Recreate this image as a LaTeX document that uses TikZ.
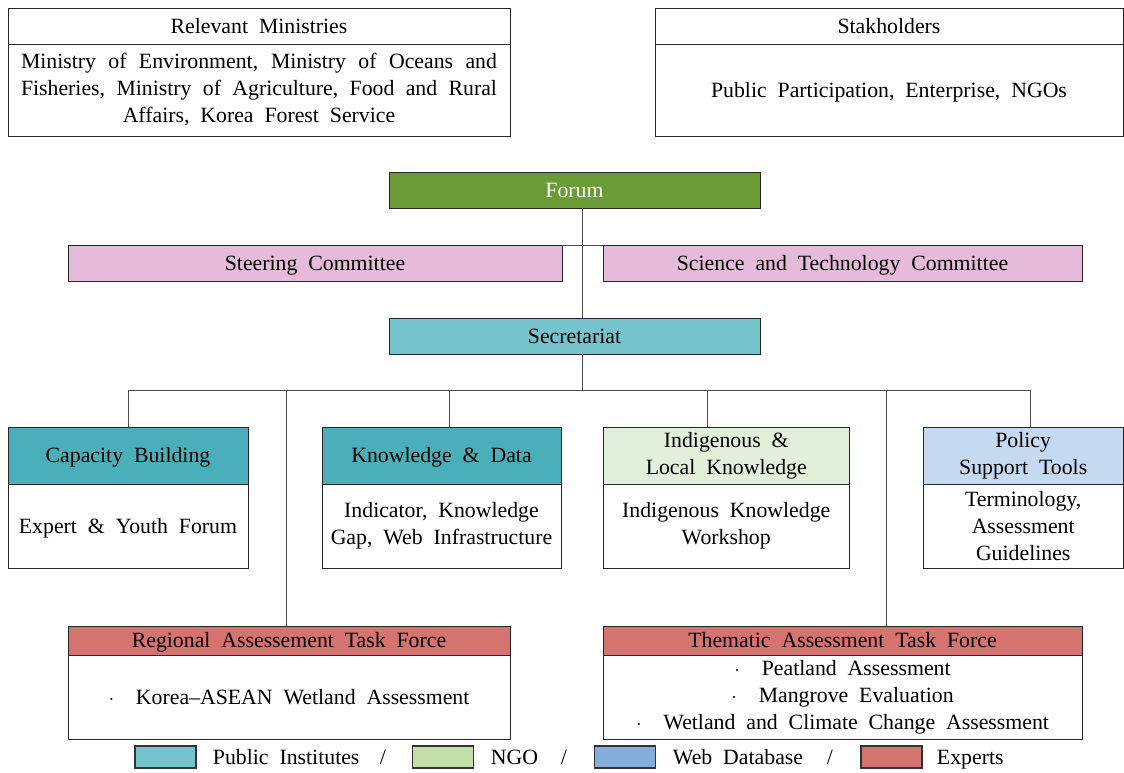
\documentclass[tikz,border=0pt]{standalone}
\usepackage{fontspec}
\setmainfont{Liberation Serif}
\usetikzlibrary{positioning}

\definecolor{forumgreen}{RGB}{106,155,55}
\definecolor{committeepink}{RGB}{230,187,218}
\definecolor{secrteal}{RGB}{116,195,205}
\definecolor{workteal}{RGB}{75,175,186}
\definecolor{ngolight}{RGB}{226,239,218}
\definecolor{weblight}{RGB}{197,217,241}
\definecolor{expertred}{RGB}{212,115,112}
\definecolor{ngogreen}{RGB}{196,223,167}
\definecolor{webblue}{RGB}{133,173,219}

\newcommand\diagfont{\fontsize{15.5}{19.2}\selectfont\spaceskip=0.5em plus 0.15em minus 0.12em\relax}

\begin{document}
\begin{tikzpicture}[
  font=\diagfont,
  box/.style={draw=black!85, line width=0.7pt, inner sep=0pt, outer sep=0pt, align=center},
  one/.style={text height=10.3pt, text depth=0pt},
  link/.style={draw=black!70, line width=0.7pt},
  swatch/.style={draw=black!80, line width=0.8pt, minimum width=1.525cm, minimum height=0.55cm}
]
\useasboundingbox (0,0) rectangle (28.1,-19.325);

\node[box, one, minimum width=12.55cm, minimum height=0.9cm] (minhead) at (6.475,-0.65) {Relevant Ministries};
\node[box, minimum width=12.55cm, minimum height=2.3cm, below=0pt of minhead] (minbody)
  {\makebox[11.9cm][s]{Ministry of Environment, Ministry of Oceans and}\\
   \makebox[11.9cm][s]{Fisheries, Ministry of Agriculture, Food and Rural}\\
   Affairs, Korea Forest Service};

\node[box, one, minimum width=11.7cm, minimum height=0.9cm] (stkhead) at (22.225,-0.65) {Stakholders};
\node[box, one, minimum width=11.7cm, minimum height=2.3cm, below=0pt of stkhead] (stkbody)
  {Public Participation, Enterprise, NGOs};

\node[box, one, fill=forumgreen, text=white, minimum width=9.275cm, minimum height=0.9cm] (forum) at (14.3625,-4.75) {Forum};
\node[box, one, fill=committeepink, minimum width=12.35cm, minimum height=0.9cm] (steer) at (7.875,-6.575) {Steering Committee};
\node[box, one, fill=committeepink, minimum width=11.975cm, minimum height=0.9cm] (scitech) at (21.0625,-6.575) {Science and Technology Committee};
\node[box, one, fill=secrteal, minimum width=9.275cm, minimum height=0.9cm] (secr) at (14.3625,-8.4) {Secretariat};

\node[box, one, fill=workteal, minimum width=6cm, minimum height=1.425cm] (caphead) at (3.2,-11.3875) {Capacity Building};
\node[box, one, minimum width=6cm, minimum height=2.1cm, below=0pt of caphead] (capbody) {Expert \& Youth Forum};

\node[box, one, fill=workteal, minimum width=5.975cm, minimum height=1.425cm] (knowhead) at (11.0375,-11.3875) {Knowledge \& Data};
\node[box, minimum width=5.975cm, minimum height=2.1cm, below=0pt of knowhead] (knowbody) {Indicator, Knowledge\\Gap, Web Infrastructure};

\node[box, fill=ngolight, minimum width=6.1375cm, minimum height=1.425cm] (indhead) at (18.156,-11.3875) {Indigenous \&\\Local Knowledge};
\node[box, minimum width=6.1375cm, minimum height=2.1cm, below=0pt of indhead] (indbody) {Indigenous Knowledge\\Workshop};

\node[box, fill=weblight, minimum width=4.99cm, minimum height=1.425cm] (polhead) at (25.58,-11.3875) {Policy\\Support Tools};
\node[box, minimum width=4.99cm, minimum height=2.1cm, below=0pt of polhead] (polbody) {Terminology,\\Assessment\\Guidelines};

\node[box, one, fill=expertred, minimum width=11.05cm, minimum height=0.725cm] (reghead) at (7.225,-16.0125) {Regional Assessement Task Force};
\node[box, one, minimum width=11.05cm, minimum height=2.1cm, below=0pt of reghead] (regbody) {$\cdot$\ \ Korea--ASEAN Wetland Assessment};

\node[box, one, fill=expertred, minimum width=11.975cm, minimum height=0.725cm] (themhead) at (21.0625,-16.0125) {Thematic Assessment Task Force};
\node[box, minimum width=11.975cm, minimum height=2.1cm, below=0pt of themhead] (thembody)
  {$\cdot$\ \ Peatland Assessment\\$\cdot$\ \ Mangrove Evaluation\\$\cdot$\ \ Wetland and Climate Change Assessment};

\coordinate (spine) at (14.55,0);
\coordinate (busL) at (3.2,-9.75);
\coordinate (busR) at (25.75,-9.75);

\draw[link] (forum.south -| spine) -- (secr.north -| spine);
\draw[link] (steer.north east) -- (scitech.north west);
\draw[link] (secr.south -| spine) -- (spine |- busL);
\draw[link] (busL) -- (busR);

\draw[link] (busL) -- (caphead.north);
\draw[link] (11.225,-9.75) -- (knowhead.north -| 11.225,0);
\draw[link] (17.675,-9.75) -- (indhead.north -| 17.675,0);
\draw[link] (busR) -- (polhead.north -| busR);
\draw[link] (7.15,-9.75) -- (reghead.north -| 7.15,0);
\draw[link] (22.15,-9.75) -- (themhead.north -| 22.15,0);

\node[swatch, fill=secrteal] (legpub) at (4.1375,-18.925) {};
\node[one, anchor=west] (txtpub) at (5.2,-18.925) {Public Institutes};
\node[one] (sep1) at (9.575,-18.925) {/};
\node[swatch, fill=ngogreen] (legngo) at (11.075,-18.925) {};
\node[one, anchor=west] (txtngo) at (12.15,-18.925) {NGO};
\node[one] (sep2) at (14.1,-18.925) {/};
\node[swatch, fill=webblue] (legweb) at (15.625,-18.925) {};
\node[one, anchor=west] (txtweb) at (16.7,-18.925) {Web Database};
\node[one] (sep3) at (20.75,-18.925) {/};
\node[swatch, fill=expertred] (legexp) at (22.2875,-18.925) {};
\node[one, anchor=west] (txtexp) at (23.3,-18.925) {Experts};
\end{tikzpicture}
\end{document}
